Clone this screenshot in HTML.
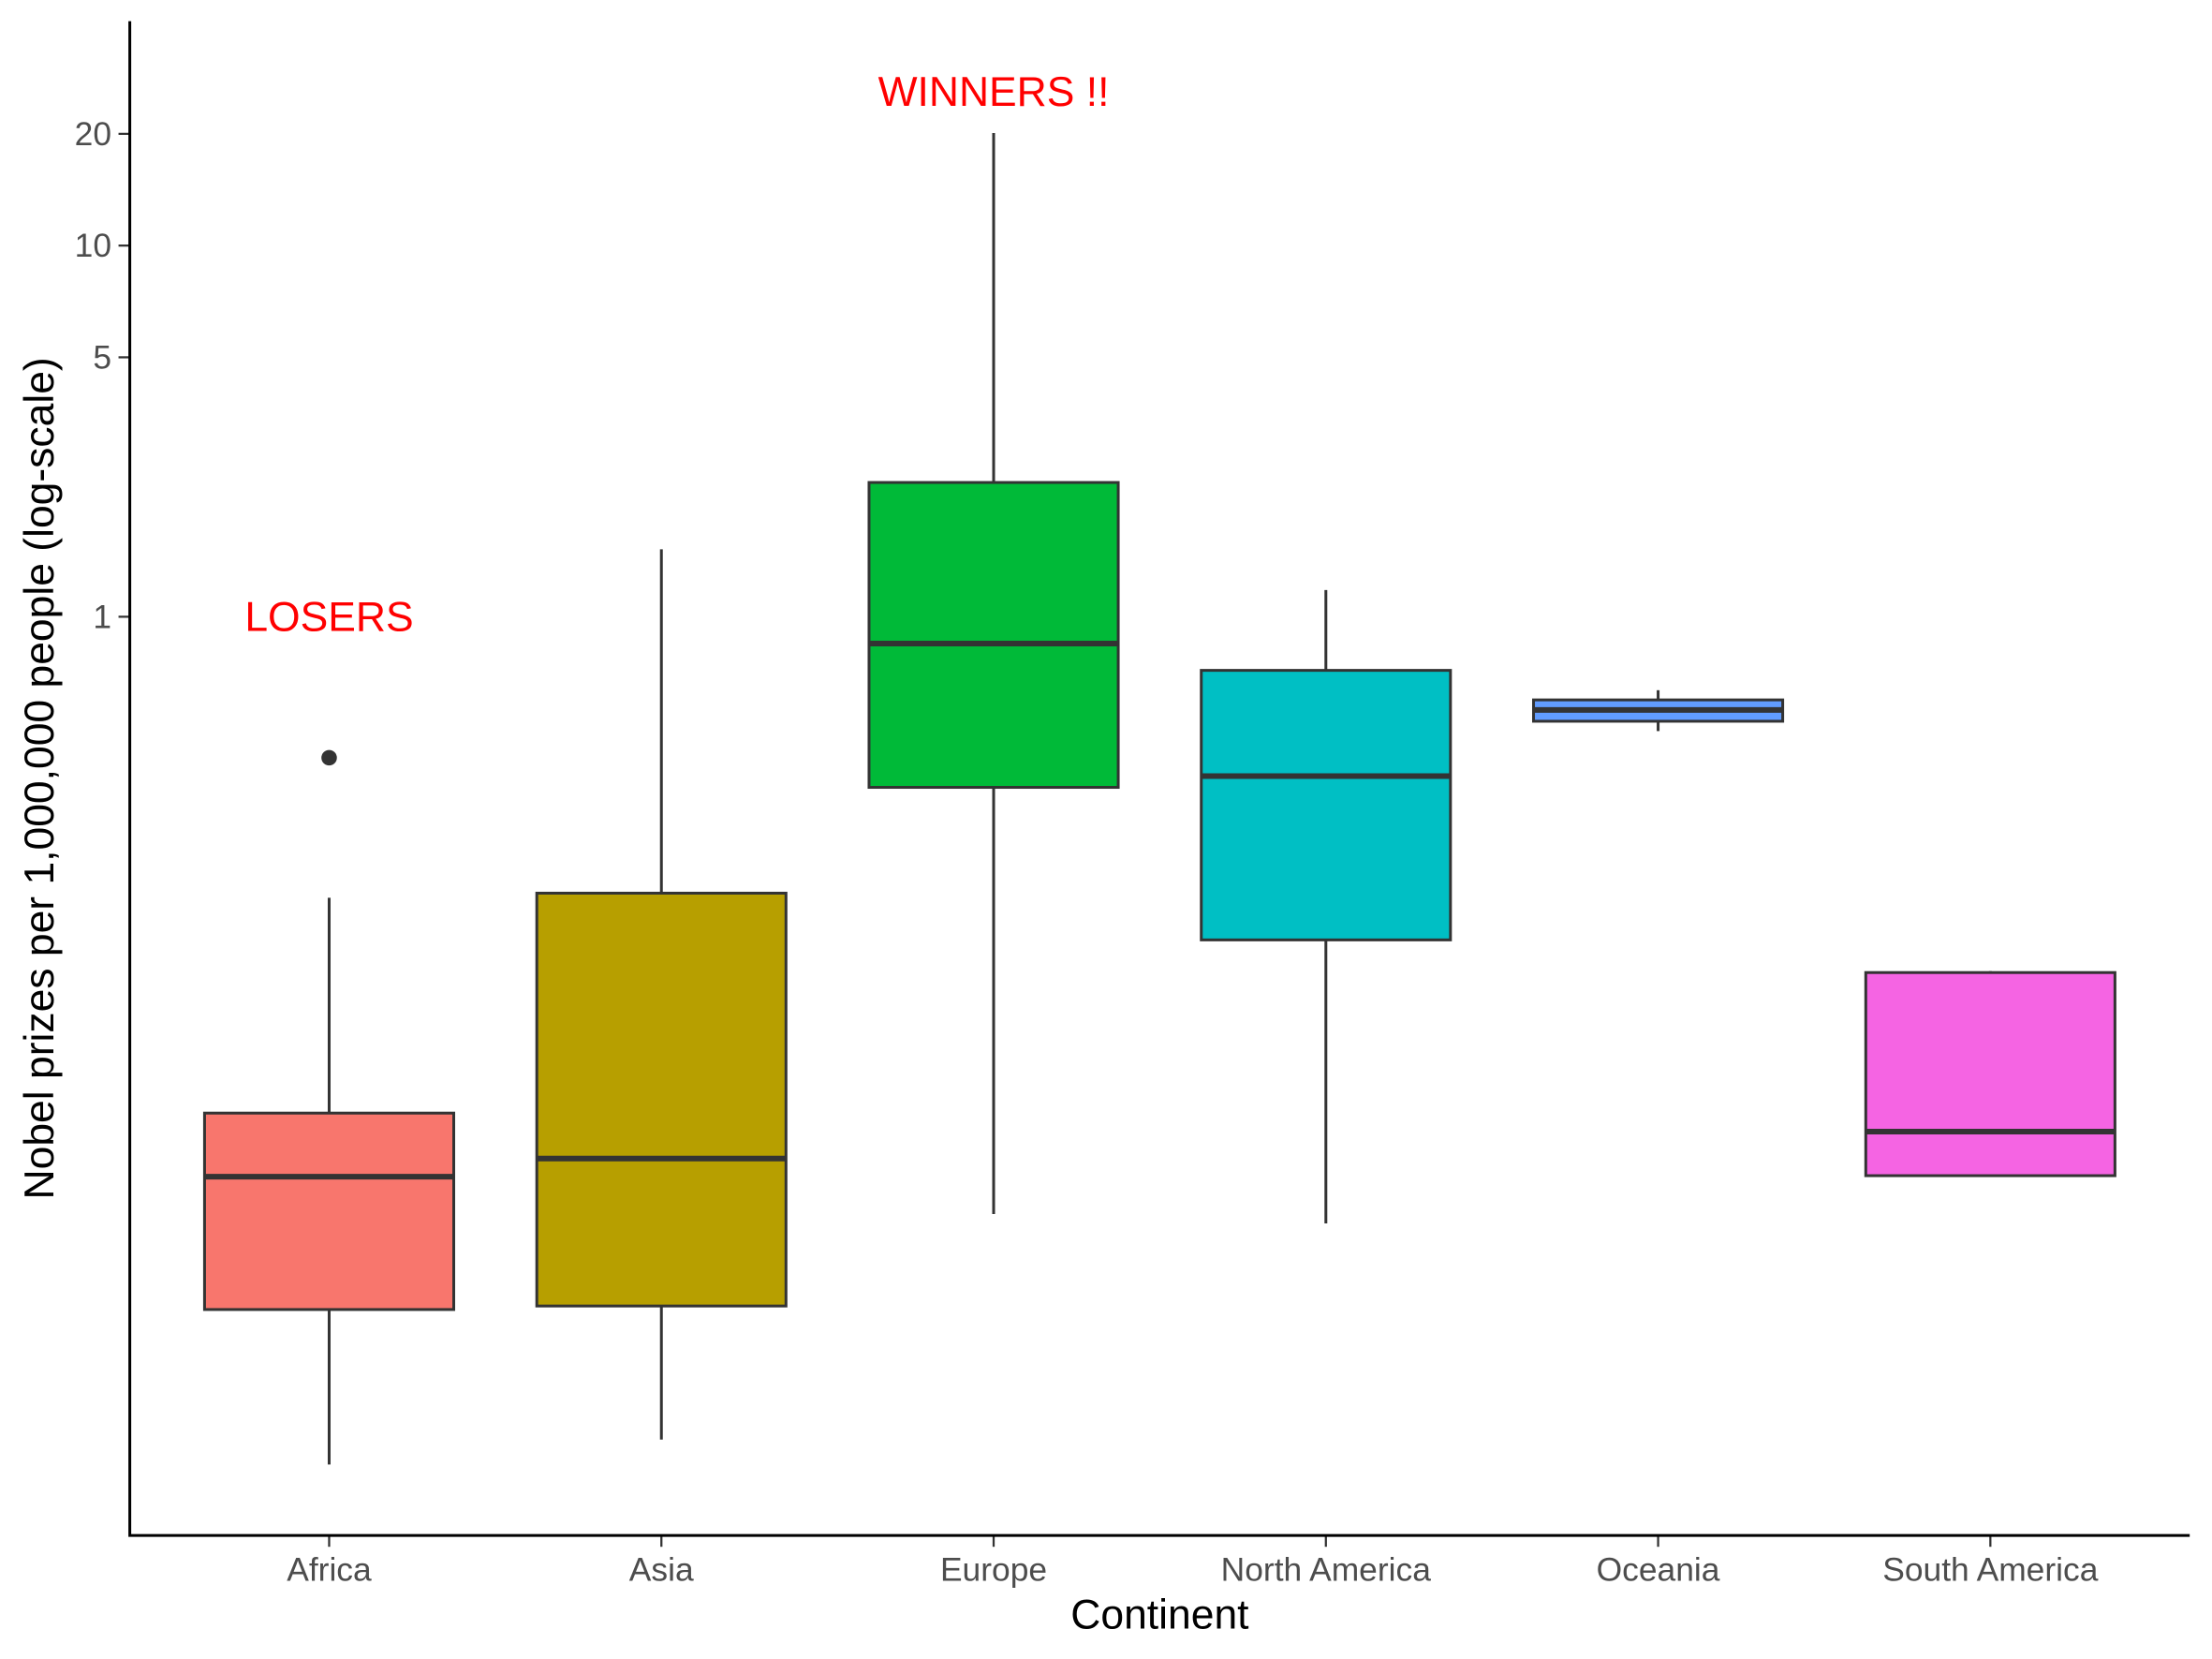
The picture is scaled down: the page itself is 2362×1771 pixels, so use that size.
<!DOCTYPE html>
<html><head><meta charset="utf-8"><style>body{margin:0;background:#fff}svg{display:block}text{font-family:"Liberation Sans",sans-serif}</style></head>
<body>
<svg id="chart" width="2362" height="1771" viewBox="0 0 1567.8 1175.5" xmlns="http://www.w3.org/2000/svg"></svg>
<script>
const categories = ["Africa","Asia","Europe","North America","Oceania","South America"];
const lowWhisker = [0.0052,0.00607,0.0246,0.0232,0.492,0.0312];
const q1 = [0.0136,0.0139,0.347,0.1347,0.523,0.0312];
const median = [0.031,0.0347,0.847,0.372,0.561,0.041];
const q3 = [0.046,0.180,2.30,0.717,0.597,0.110];
const highWhisker = [0.175,1.52,20.1,1.18,0.634,0.111];
const outliers = [[0.417],[],[],[],[],[]];
const fills = ["#F8766D","#B79F00","#00BA38","#00BFC4","#619CFF","#F564E3"];
const yTicks = [1,5,10,20];
const yTickLabels = ["1","5","10","20"];

const NS="http://www.w3.org/2000/svg";
const svg=document.getElementById('chart');
const L=92,R=1552,T=15,B=1088;
const y=v=>437-263*Math.log10(v);
const step=(R-L)/(categories.length-1+1.2);
const x=i=>L+step*(0.6+i);
function mk(t,a,txt){const e=document.createElementNS(NS,t);for(const k in a)e.setAttribute(k,a[k]);if(txt!==undefined)e.textContent=txt;svg.appendChild(e);return e;}

categories.forEach((c,i)=>{
  const cx=x(i),hw=step*0.375;
  const w1=mk('line',{x1:cx,x2:cx,y1:y(highWhisker[i]),y2:y(q3[i]),stroke:'#333','stroke-width':2});
  
  
  const w2=mk('line',{x1:cx,x2:cx,y1:y(q1[i]),y2:y(lowWhisker[i]),stroke:'#333','stroke-width':2});
  
  
  const b=mk('rect',{x:cx-hw,y:y(q3[i]),width:2*hw,height:y(q1[i])-y(q3[i]),fill:fills[i],stroke:'#333','stroke-width':2});
  
  
  const m=mk('line',{x1:cx-hw,x2:cx+hw,y1:y(median[i]),y2:y(median[i]),stroke:'#333','stroke-width':4});
  
  
  outliers[i].forEach(o=>{
    const p=mk('circle',{cx:cx,cy:y(o),r:5.5,fill:'#333'});
    
    
  });
  const t=mk('line',{x1:cx,x2:cx,y1:B,y2:B+8,stroke:'#333','stroke-width':1.5});
  
  
  const lb=mk('text',{x:cx,y:B+32,'text-anchor':'middle','font-size':23.5,fill:'#4d4d4d'},c);
  
  
});
yTicks.forEach((v,i)=>{
  const t=mk('line',{x1:L-8,x2:L,y1:y(v),y2:y(v),stroke:'#333','stroke-width':1.5});
  
  
  const lb=mk('text',{x:L-13,y:y(v)+8,'text-anchor':'end','font-size':23.5,fill:'#4d4d4d'},yTickLabels[i]);
  
  
});
const ax=mk('path',{d:`M${L},${T}V${B}H${R}`,fill:'none',stroke:'#000','stroke-width':2});


const xt=mk('text',{x:(L+R)/2,y:1154,'text-anchor':'middle','font-size':29.5},'Continent');


const yt=mk('text',{x:0,y:0,'text-anchor':'middle','font-size':29.5,transform:`translate(38,${(T+B)/2}) rotate(-90)`},'Nobel prizes per 1,000,000 people (log-scale)');


const a1=mk('text',{x:x(0),y:447,'text-anchor':'middle','font-size':29.5,fill:'#FF0000'},'LOSERS');


const a2=mk('text',{x:x(2),y:75,'text-anchor':'middle','font-size':29.5,fill:'#FF0000'},'WINNERS !!');


</script>
</body></html>
